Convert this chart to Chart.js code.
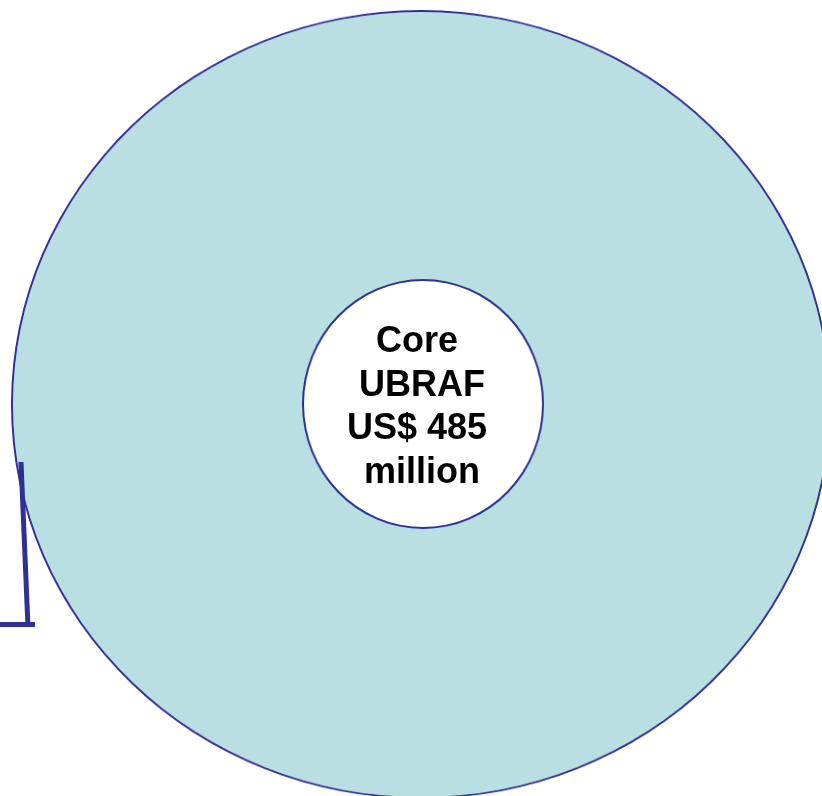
<!DOCTYPE html>
<html>
<head>
<meta charset="utf-8">
<script src="https://cdn.jsdelivr.net/npm/chart.js@4/dist/chart.umd.min.js"></script>
<style>
  html, body { margin: 0; padding: 0; background: #ffffff; }
  #stage { position: relative; width: 822px; height: 796px; overflow: hidden; background: #ffffff; }
  .wrap { position: absolute; }
  #outerWrap { left: 11px; top: 10px; width: 820px; height: 820px; transform: scaleY(0.9621); transform-origin: 0 0; }
  #innerWrap { left: 302px; top: 279px; width: 250px; height: 250px; transform: scaleX(0.968); transform-origin: 0 0; }
  #label {
    position: absolute; left: 272px; width: 300px; top: 318px;
    text-align: center; white-space: pre;
    font-family: "Liberation Sans", Arial, sans-serif; font-weight: bold;
    font-size: 36px; line-height: 43.7px; color: #000000;
  }
  #bracket { position: absolute; left: 0; top: 0; }
</style>
</head>
<body>
<div id="stage">
  <div class="wrap" id="outerWrap"><canvas id="outer" width="820" height="820" style="width:820px;height:820px"></canvas></div>
  <div class="wrap" id="innerWrap"><canvas id="inner" width="250" height="250" style="width:250px;height:250px"></canvas></div>
  <div id="label"></div>
  <svg id="bracket" width="822" height="796">
    <line x1="21" y1="462" x2="28" y2="627" stroke="#2E3192" stroke-width="5"/>
    <line x1="0" y1="624.5" x2="35" y2="624.5" stroke="#2E3192" stroke-width="5"/>
  </svg>
</div>
<script>
// ---- data ----
const outerCategories = ['UBRAF'];
const outerValues = [1];
const coreCategories = ['Core UBRAF'];
const coreValues = [485];           // US$ million
const labelLines = ['Core ', 'UBRAF', 'US$ 485 ', 'million'];

// ---- colours ----
const ringFill = '#B9DFE2';
const ringBorder = '#2E3192';

const common = {
  responsive: false,
  animation: false,
  layout: { padding: 0 },
  cutout: 0,
  plugins: { legend: { display: false }, tooltip: { enabled: false }, title: { display: false } },
  events: []
};

// outline drawn as a thin outer ring, fill as the disc inside it (no radial seam)
new Chart(document.getElementById('outer'), {
  type: 'doughnut',
  data: {
    labels: outerCategories,
    datasets: [
      { data: outerValues, backgroundColor: ringBorder, borderWidth: 0, weight: 2 },
      { data: outerValues, backgroundColor: ringFill, borderWidth: 0, weight: 408 }
    ]
  },
  options: common
});

new Chart(document.getElementById('inner'), {
  type: 'doughnut',
  data: {
    labels: coreCategories,
    datasets: [
      { data: coreValues, backgroundColor: ringBorder, borderWidth: 0, weight: 2 },
      { data: coreValues, backgroundColor: '#FFFFFF', borderWidth: 0, weight: 123 }
    ]
  },
  options: common
});

document.getElementById('label').textContent = labelLines.join('\n');
</script>
</body>
</html>
